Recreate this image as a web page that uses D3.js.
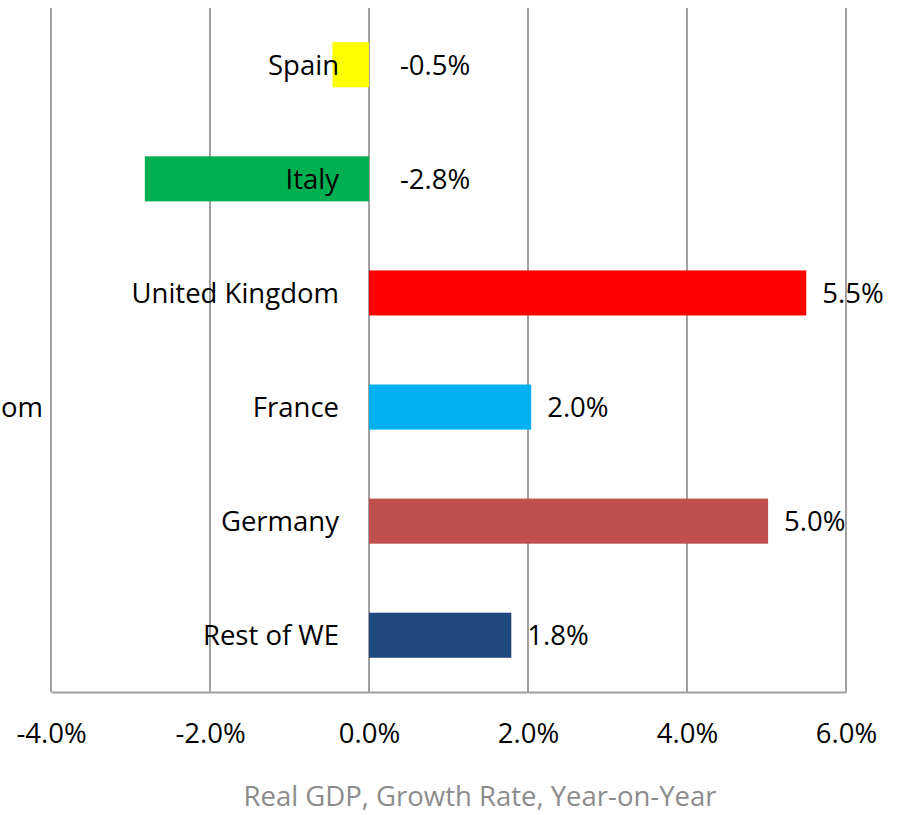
<!DOCTYPE html>
<html>
<head>
  <title>Real GDP Growth</title>
  <style>
    html, body { margin: 0; padding: 0; background: #fff; }
    svg { display: block; font-family: "Open Sans", Lato, sans-serif; }
    .grid line { stroke: #a0a0a0; stroke-width: 2px; }
    .axis text { font-size: 27.5px; fill: #000; }
    .cat { font-size: 27.5px; fill: #000; }
    .val { font-size: 27.5px; fill: #000; }
    .title { font-size: 27.5px; fill: #8c8c8c; }
  </style>
</head>
<body>
  <svg id="chart" width="901" height="815"></svg>

  <script src="https://d3js.org/d3.v7.min.js"></script>
  <script>
    const countries = ["Spain", "Italy", "United Kingdom", "France", "Germany", "Rest of WE"];
    const growth = [-0.46, -2.82, 5.5, 2.04, 5.02, 1.79];
    const colors = ["#ffff00", "#00b050", "#ff0000", "#00b0f0", "#c0504d", "#1f497d"];
    const ticks = [-4, -2, 0, 2, 4, 6];
    const title = "Real GDP, Growth Rate, Year-on-Year";
    const sideLabel = "om"; // fragment of a label left of the plot

    const data = countries.map((c, i) => ({ country: c, value: growth[i], color: colors[i] }));

    const svg = d3.select("#chart");
    const plotLeft = 51, plotRight = 846, plotTop = 8, plotBottom = 692;

    const x = d3.scaleLinear().domain([-4, 6]).range([plotLeft, plotRight]);
    const y = d3.scaleBand()
                .domain(countries)
                .range([plotTop, plotBottom])
                .paddingInner(0.605)
                .paddingOuter(0.3);

    // vertical gridlines
    svg.append("g")
       .attr("class", "grid")
       .selectAll("line")
       .data(ticks)
       .enter()
       .append("line")
       .attr("x1", d => x(d))
       .attr("x2", d => x(d))
       .attr("y1", plotTop)
       .attr("y2", plotBottom);

    // bottom axis line + labels
    const xAxis = d3.axisBottom(x)
                    .tickValues(ticks)
                    .tickSize(0)
                    .tickPadding(31)
                    .tickFormat(d => d.toFixed(1) + "%");
    const ax = svg.append("g")
                  .attr("class", "axis")
                  .attr("transform", `translate(0,${plotBottom})`)
                  .call(xAxis);
    ax.select(".domain").attr("stroke", "#a0a0a0").attr("stroke-width", 2);
    ax.attr("font-family", null).attr("font-size", null);

    // bars
    svg.selectAll(".bar")
       .data(data)
       .enter()
       .append("rect")
       .attr("class", "bar")
       .attr("x", d => x(Math.min(0, d.value)))
       .attr("width", d => Math.abs(x(d.value) - x(0)))
       .attr("y", d => y(d.country))
       .attr("height", y.bandwidth())
       .attr("fill", d => d.color);

    // category labels (drawn over bars)
    svg.selectAll(".cat")
       .data(data)
       .enter()
       .append("text")
       .attr("class", "cat")
       .attr("x", x(0) - 30)
       .attr("y", d => y(d.country) + y.bandwidth() / 2 + 10)
       .attr("text-anchor", "end")
       .text(d => d.country);

    // value labels
    svg.selectAll(".val")
       .data(data)
       .enter()
       .append("text")
       .attr("class", "val")
       .attr("x", d => d.value < 0 ? x(0) + 31 : x(d.value) + 16)
       .attr("y", d => y(d.country) + y.bandwidth() / 2 + 10)
       .text(d => d.value.toFixed(1) + "%");

    // label fragment at the left edge
    svg.append("text")
       .attr("class", "cat")
       .attr("x", 1)
       .attr("y", (plotTop + plotBottom) / 2 + 67)
       .text(sideLabel);

    // axis title
    svg.append("text")
       .attr("class", "title")
       .attr("x", 480)
       .attr("y", 806)
       .attr("text-anchor", "middle")
       .text(title);
  </script>
</body>
</html>
